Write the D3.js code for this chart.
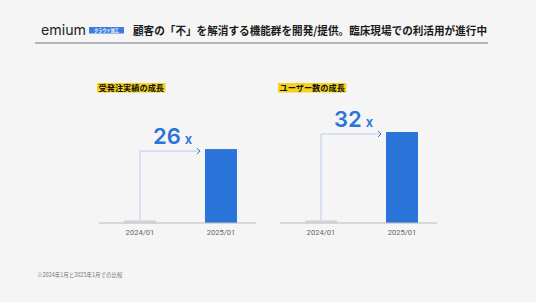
<!DOCTYPE html>
<html>
<head>
<meta charset="utf-8">
<script src="https://cdn.jsdelivr.net/npm/d3@7"></script>
<style>
  body { margin: 0; background: #f5f5f5; }
  svg { display: block; font-family: "Noto Sans CJK JP", "Noto Sans", sans-serif; }
</style>
</head>
<body>
<svg id="chart"></svg>
<script>
var width = 536;
var height = 302;

// data
var periods = ["2024/01", "2025/01"];
var chartTitles = ["受発注実績の成長", "ユーザー数の成長"];
var orderValues = [1, 26];
var userValues = [1, 32];
var multipliers = ["26", "32"];
var headline = "顧客の「不」を解消する機能群を開発/提供。臨床現場での利活用が進行中";
var footnote = "※2024年1月と2025年1月での比較";

var blue = "#2b74da";
var svg = d3.select("#chart").attr("width", width).attr("height", height);

svg.append("rect").attr("width", width).attr("height", height).attr("fill", "#f5f5f5");

// header
svg.append("text")
  .attr("x", 41).attr("y", 34.5)
  .attr("font-family", "Inter, 'Open Sans', sans-serif")
  .attr("font-size", 14.2).attr("fill", "#222")
  .text("emium");
svg.append("rect").attr("x", 89).attr("y", 27).attr("width", 35).attr("height", 6.5)
  .attr("fill", "#3b7ee0").attr("rx", 0.5);
svg.append("text").attr("x", 106.5).attr("y", 32.2).attr("text-anchor", "middle")
  .attr("font-size", 4.2).attr("fill", "#fff").attr("font-weight", "bold")
  .text("クラウド加工");
svg.append("text")
  .attr("x", 133).attr("y", 34.5)
  .attr("font-size", 11.2).attr("font-weight", "bold").attr("fill", "#1a1a1a")
  .attr("textLength", 354).attr("lengthAdjust", "spacingAndGlyphs")
  .text(headline);
svg.append("line").attr("x1", 35).attr("x2", 488).attr("y1", 43).attr("y2", 43)
  .attr("stroke", "#555").attr("stroke-width", 0.8);

// shared value scale, both charts use the same units
var y = d3.scaleLinear().domain([0, 32]).range([223, 132]);

function drawChart(x0, title, values, mult) {
  var g = svg.append("g");
  var x = d3.scaleBand().domain(periods).range([x0 + 25, x0 + 138]).paddingInner(0.605).paddingOuter(0);

  // title with highlight
  var t = g.append("text").attr("x", x0 - 0.5).attr("y", 90.8)
    .attr("font-size", 8.2).attr("font-weight", "bold").attr("fill", "#111")
    .text(title);
  var bb = t.node().getBBox();
  g.insert("rect", "text").attr("x", bb.x - 1.5).attr("y", 83).attr("width", bb.width + 3).attr("height", 9.5)
    .attr("fill", "#f6d21c");

  g.selectAll(".bar").data(values).enter().append("rect")
    .attr("x", (d, i) => x(periods[i]))
    .attr("y", d => y(d))
    .attr("width", x.bandwidth())
    .attr("height", d => y(0) - y(d))
    .attr("fill", (d, i) => i === 0 ? "#d9d9d9" : blue);

  var axis = g.append("g").attr("transform", "translate(0," + y(0) + ")")
    .call(d3.axisBottom(x).tickSize(0).tickPadding(6.5));
  axis.select(".domain").attr("stroke", "#bbb").attr("d", "M" + x0 + ",0H" + (x0 + 157));
  axis.selectAll("text").attr("font-size", 7.6).attr("fill", "#666")
    .attr("font-family", "Roboto, 'Noto Sans', sans-serif");

  // growth arrow
  var ax = x(periods[0]) + x.bandwidth() / 2;
  var ay = y(values[1]) + 2;
  var ex = x(periods[1]) - 5;
  g.append("path")
    .attr("d", "M" + ax + "," + (y(0) - 3) + "V" + ay + "H" + ex)
    .attr("fill", "none").attr("stroke", "#a9c3ec").attr("stroke-width", 0.8);
  g.append("path")
    .attr("d", "M" + (ex - 3) + "," + (ay - 3) + "L" + ex + "," + ay + "L" + (ex - 3) + "," + (ay + 3))
    .attr("fill", "none").attr("stroke", blue).attr("stroke-width", 1);

  var lbl = g.append("text").attr("x", ax + 13).attr("y", ay - 7)
    .attr("fill", blue).attr("font-weight", 600)
    .attr("font-family", "Inter, 'Open Sans', sans-serif");
  lbl.append("tspan").attr("font-size", 22).text(mult);
  lbl.append("tspan").attr("font-size", 13).attr("dx", 4).text("x");
}

drawChart(99, chartTitles[0], orderValues, multipliers[0]);
drawChart(280, chartTitles[1], userValues, multipliers[1]);

svg.append("text").attr("x", 37).attr("y", 277)
  .attr("font-size", 5.5).attr("fill", "#777").text(footnote);
</script>
</body>
</html>
